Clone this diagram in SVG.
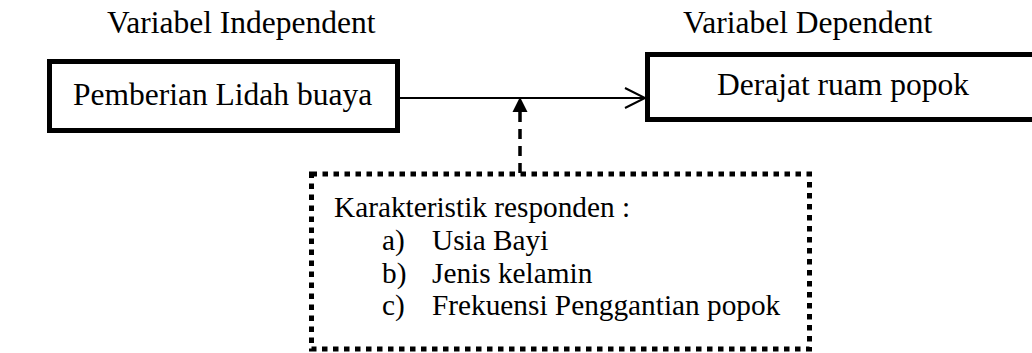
<svg xmlns="http://www.w3.org/2000/svg" width="1032" height="353" viewBox="0 0 1032 353">
  <style>
    .t { font-family: "Liberation Serif", "Times New Roman", serif; fill: #000; }
    .big { font-size: 31.5px; }
    .sm { font-size: 29.3px; }
    .box { fill: #fff; stroke: #000; stroke-width: 5; }
  </style>
  <defs>
    <marker id="open" markerWidth="24" markerHeight="24" refX="21" refY="11" orient="auto" markerUnits="userSpaceOnUse">
      <polyline points="1,1 21,11 1,21" fill="none" stroke="#000" stroke-width="2"/>
    </marker>
  </defs>
  <rect width="1032" height="353" fill="#fff"/>
  <text class="t big" x="107" y="33">Variabel Independent</text>
  <text class="t big" x="683" y="33">Variabel Dependent</text>
  <g id="connectors">
    <line x1="400" y1="98" x2="645" y2="98" stroke="#000" stroke-width="2" marker-end="url(#open)"/>
    <line x1="520" y1="112" x2="520" y2="174" stroke="#000" stroke-width="3.5" stroke-dasharray="10 7"/>
    <polygon points="520,97 512.5,112 527.5,112" fill="#000"/>
  </g>
  <g id="node-independent">
    <rect class="box" x="49.5" y="61.5" width="348" height="69"/>
    <text class="t big" x="73" y="105">Pemberian Lidah buaya</text>
  </g>
  <g id="node-dependent">
    <rect class="box" x="647.5" y="54.5" width="400" height="65"/>
    <text class="t big" x="717" y="95">Derajat ruam popok</text>
  </g>
  <g id="node-karakteristik">
    <rect x="311.5" y="174" width="498" height="175" fill="none" stroke="#000" stroke-width="5" stroke-dasharray="5.5 5.5"/>
    <text class="t sm" x="334" y="217">Karakteristik responden :</text>
    <text class="t sm" y="250"><tspan x="382">a)</tspan><tspan x="432">Usia Bayi</tspan></text>
    <text class="t sm" y="283"><tspan x="382">b)</tspan><tspan x="432">Jenis kelamin</tspan></text>
    <text class="t sm" y="315"><tspan x="382">c)</tspan><tspan x="432">Frekuensi Penggantian popok</tspan></text>
  </g>
</svg>
